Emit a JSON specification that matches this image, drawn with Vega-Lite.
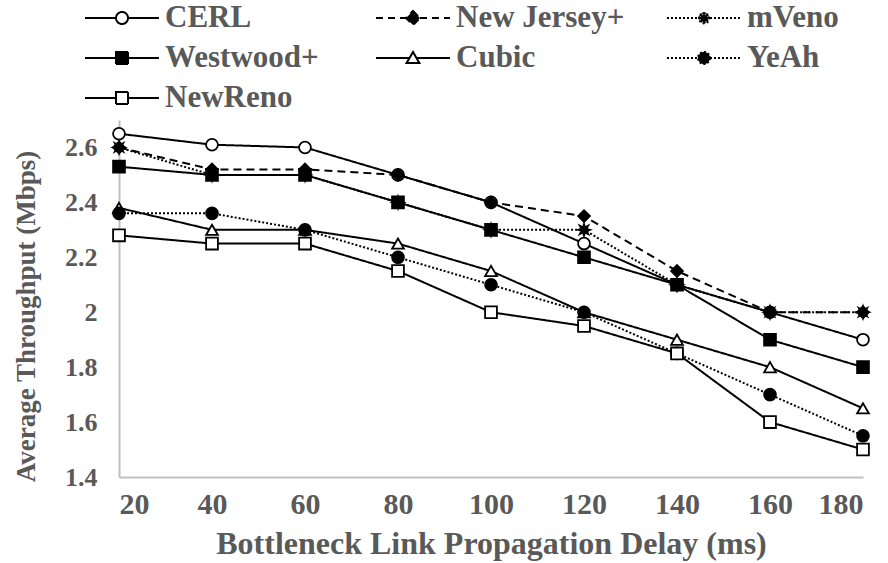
{
  "$schema": "https://vega.github.io/schema/vega-lite/v6.json",
  "width": 744,
  "height": 357,
  "autosize": {"type": "none"},
  "padding": {"left": 119, "top": 120, "right": 25, "bottom": 86},
  "background": "white",
  "config": {
    "view": {"stroke": null},
    "font": "Liberation Serif",
    "axis": {
      "labelFont": "Liberation Serif",
      "titleFont": "Liberation Serif",
      "labelFontWeight": "bold",
      "titleFontWeight": "bold",
      "labelColor": "#595959",
      "titleColor": "#595959",
      "domainColor": "#BFBFBF",
      "domainWidth": 2,
      "ticks": false,
      "grid": false
    },
    "legend": {
      "labelFont": "Liberation Serif",
      "labelFontWeight": "bold",
      "labelColor": "#595959"
    }
  },
  "data": {
    "values": [
      {"series": "CERL", "delay": 20, "tput": 2.65},
      {"series": "CERL", "delay": 40, "tput": 2.61},
      {"series": "CERL", "delay": 60, "tput": 2.60},
      {"series": "CERL", "delay": 80, "tput": 2.50},
      {"series": "CERL", "delay": 100, "tput": 2.40},
      {"series": "CERL", "delay": 120, "tput": 2.25},
      {"series": "CERL", "delay": 140, "tput": 2.10},
      {"series": "CERL", "delay": 160, "tput": 2.00},
      {"series": "CERL", "delay": 180, "tput": 1.90},
      {"series": "New Jersey+", "delay": 20, "tput": 2.60},
      {"series": "New Jersey+", "delay": 40, "tput": 2.52},
      {"series": "New Jersey+", "delay": 60, "tput": 2.52},
      {"series": "New Jersey+", "delay": 80, "tput": 2.50},
      {"series": "New Jersey+", "delay": 100, "tput": 2.40},
      {"series": "New Jersey+", "delay": 120, "tput": 2.35},
      {"series": "New Jersey+", "delay": 140, "tput": 2.15},
      {"series": "New Jersey+", "delay": 160, "tput": 2.00},
      {"series": "New Jersey+", "delay": 180, "tput": 2.00},
      {"series": "mVeno", "delay": 20, "tput": 2.60},
      {"series": "mVeno", "delay": 40, "tput": 2.50},
      {"series": "mVeno", "delay": 60, "tput": 2.50},
      {"series": "mVeno", "delay": 80, "tput": 2.40},
      {"series": "mVeno", "delay": 100, "tput": 2.30},
      {"series": "mVeno", "delay": 120, "tput": 2.30},
      {"series": "mVeno", "delay": 140, "tput": 2.10},
      {"series": "mVeno", "delay": 160, "tput": 2.00},
      {"series": "mVeno", "delay": 180, "tput": 2.00},
      {"series": "Westwood+", "delay": 20, "tput": 2.53},
      {"series": "Westwood+", "delay": 40, "tput": 2.50},
      {"series": "Westwood+", "delay": 60, "tput": 2.50},
      {"series": "Westwood+", "delay": 80, "tput": 2.40},
      {"series": "Westwood+", "delay": 100, "tput": 2.30},
      {"series": "Westwood+", "delay": 120, "tput": 2.20},
      {"series": "Westwood+", "delay": 140, "tput": 2.10},
      {"series": "Westwood+", "delay": 160, "tput": 1.90},
      {"series": "Westwood+", "delay": 180, "tput": 1.80},
      {"series": "Cubic", "delay": 20, "tput": 2.38},
      {"series": "Cubic", "delay": 40, "tput": 2.30},
      {"series": "Cubic", "delay": 60, "tput": 2.30},
      {"series": "Cubic", "delay": 80, "tput": 2.25},
      {"series": "Cubic", "delay": 100, "tput": 2.15},
      {"series": "Cubic", "delay": 120, "tput": 2.00},
      {"series": "Cubic", "delay": 140, "tput": 1.90},
      {"series": "Cubic", "delay": 160, "tput": 1.80},
      {"series": "Cubic", "delay": 180, "tput": 1.65},
      {"series": "YeAh", "delay": 20, "tput": 2.36},
      {"series": "YeAh", "delay": 40, "tput": 2.36},
      {"series": "YeAh", "delay": 60, "tput": 2.30},
      {"series": "YeAh", "delay": 80, "tput": 2.20},
      {"series": "YeAh", "delay": 100, "tput": 2.10},
      {"series": "YeAh", "delay": 120, "tput": 2.00},
      {"series": "YeAh", "delay": 140, "tput": 1.85},
      {"series": "YeAh", "delay": 160, "tput": 1.70},
      {"series": "YeAh", "delay": 180, "tput": 1.55},
      {"series": "NewReno", "delay": 20, "tput": 2.28},
      {"series": "NewReno", "delay": 40, "tput": 2.25},
      {"series": "NewReno", "delay": 60, "tput": 2.25},
      {"series": "NewReno", "delay": 80, "tput": 2.15},
      {"series": "NewReno", "delay": 100, "tput": 2.00},
      {"series": "NewReno", "delay": 120, "tput": 1.95},
      {"series": "NewReno", "delay": 140, "tput": 1.85},
      {"series": "NewReno", "delay": 160, "tput": 1.60},
      {"series": "NewReno", "delay": 180, "tput": 1.50}
    ]
  },
  "encoding": {
    "x": {
      "field": "delay",
      "type": "quantitative",
      "scale": {"domain": [20, 180], "nice": false, "zero": false},
      "axis": {
        "values": [20, 40, 60, 80, 100, 120, 140, 160, 180],
        "title": "Bottleneck Link Propagation Delay (ms)",
        "labelFontSize": 30,
        "titleFontSize": 32,
        "labelPadding": 12,
        "titlePadding": 9
      }
    },
    "y": {
      "field": "tput",
      "type": "quantitative",
      "scale": {"domain": [1.4, 2.7], "nice": false, "zero": false},
      "axis": {
        "values": [1.4, 1.6, 1.8, 2, 2.2, 2.4, 2.6],
        "format": ".1~f",
        "title": "Average Throughput (Mbps)",
        "labelFontSize": 26,
        "titleFontSize": 27,
        "labelPadding": 22,
        "titlePadding": 24,
        "titleY": 196
      }
    }
  },
  "layer": [
    {
      "mark": {"type": "line", "strokeWidth": 2},
      "encoding": {
        "color": {
          "field": "series",
          "type": "nominal",
          "scale": {
            "domain": ["CERL", "New Jersey+", "mVeno", "Westwood+", "Cubic", "YeAh", "NewReno"],
            "range": ["black", "black", "black", "black", "black", "black", "black"]
          },
          "legend": {
            "title": null,
            "orient": "none",
            "legendX": -18,
            "legendY": -123,
            "columns": 3,
            "direction": "horizontal",
            "gridAlign": "all",
            "columnPadding": 38,
            "rowPadding": 4,
            "padding": 0,
            "symbolSize": 1600,
            "labelOffset": 22,
            "labelFontSize": 31,
            "labelLimit": 400,
            "symbolStrokeWidth": 2,
            "encoding": {
              "symbols": {
                "shape": {"value": {"expr": "datum.value === 'CERL' ? 'M-1.85,0L-0.3,0M0.3,0L1.85,0M0.3,0A0.3,0.3,0,1,1,-0.3,0A0.3,0.3,0,1,1,0.3,0Z' : datum.value === 'New Jersey+' ? 'M-1.85,0L-0.35,0M0.35,0L1.85,0M0,-0.35L0.35,0L0,0.35L-0.35,0Z' : datum.value === 'mVeno' ? 'M-1.85,0L-0.3,0M0.3,0L1.85,0M0.33,0L0.14,0.06L0.23,0.23L0.06,0.14L0,0.33L-0.06,0.14L-0.23,0.23L-0.14,0.06L-0.33,0L-0.14,-0.06L-0.23,-0.23L-0.06,-0.14L0,-0.33L0.06,-0.14L0.23,-0.23L0.14,-0.06Z' : datum.value === 'Cubic' ? 'M-1.85,0L-0.18,0M0.18,0L1.85,0M0,-0.3L0.32,0.25L-0.32,0.25Z' : datum.value === 'YeAh' ? 'M-1.85,0L-0.3,0M0.3,0L1.85,0M0.3,0A0.3,0.3,0,1,1,-0.3,0A0.3,0.3,0,1,1,0.3,0Z' : 'M-1.85,0L-0.3,0M0.3,0L1.85,0M-0.3,-0.3L0.3,-0.3L0.3,0.3L-0.3,0.3Z'"}},
                "fill": {"value": {"expr": "indexof(['CERL','Cubic','NewReno'], datum.value) >= 0 ? 'white' : 'black'"}},
                "strokeDash": {"value": {"expr": "datum.value === 'New Jersey+' ? [7,5] : (datum.value === 'mVeno' || datum.value === 'YeAh') ? [2,2] : [1,0]"}},
                "strokeWidth": {"value": 2},
                "opacity": {"value": 1}
              }
            }
          }
        },
        "strokeDash": {
          "condition": [
            {"test": "datum.series === 'New Jersey+'", "value": [8, 5]},
            {"test": "datum.series === 'mVeno' || datum.series === 'YeAh'", "value": [2, 2]}
          ],
          "value": [1, 0]
        }
      }
    },
    {
      "mark": {"type": "point", "stroke": "black", "strokeWidth": 1.8, "opacity": 1, "size": 140},
      "encoding": {
        "fill": {
          "condition": {"test": "indexof(['CERL','Cubic','NewReno'], datum.series) >= 0", "value": "white"},
          "value": "black"
        },
        "shape": {
          "condition": [
            {"test": "datum.series === 'CERL' || datum.series === 'YeAh'", "value": "circle"},
            {"test": "datum.series === 'New Jersey+'", "value": "diamond"},
            {"test": "datum.series === 'mVeno'", "value": "M1,0L0.43,0.18L0.71,0.71L0.18,0.43L0,1L-0.18,0.43L-0.71,0.71L-0.43,0.18L-1,0L-0.43,-0.18L-0.71,-0.71L-0.18,-0.43L0,-1L0.18,-0.43L0.71,-0.71L0.43,-0.18Z"},
            {"test": "datum.series === 'Cubic'", "value": "triangle-up"}
          ],
          "value": "square"
        }
      }
    }
  ]
}
